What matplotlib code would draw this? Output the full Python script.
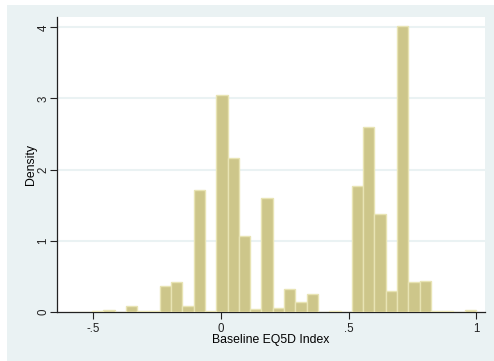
import numpy as np
import matplotlib.pyplot as plt
from matplotlib.patches import Rectangle

# histogram of baseline EQ5D index (36 bins from -0.594 to 1)
bin_min = -0.594
bin_max = 1.0
n_bins = 36
density = [0.0, 0.0, 0.02, 0.03, 0.0, 0.085, 0.015, 0.015, 0.37, 0.42,
           0.085, 1.72, 0.01, 3.05, 2.16, 1.07, 0.045, 1.60, 0.05, 0.33,
           0.145, 0.25, 0.0, 0.015, 0.0, 1.77, 2.60, 1.37, 0.29, 4.02,
           0.42, 0.44, 0.015, 0.015, 0.0, 0.03]
xticks = [-0.5, 0, 0.5, 1]
xticklabels = ["-.5", "0", ".5", "1"]
yticks = [0, 1, 2, 3, 4]

plt.rcParams['font.family'] = ['Liberation Sans', 'DejaVu Sans']
bg = '#eaf2f3'

fig = plt.figure(figsize=(4.94, 3.61), dpi=100)
fig.patch.set_facecolor('white')
# stata outer region, slightly inset from the top left
fig.patches.append(Rectangle((7/494, 0), 1 - 7/494, 1 - 5/361,
                             transform=fig.transFigure, facecolor=bg,
                             edgecolor='none', zorder=-10))

ax = fig.add_axes([57/494, (361-312)/361, (485-57)/494, (312-17)/361])
ax.set_facecolor('white')

edges = np.linspace(bin_min, bin_max, n_bins + 1)
ax.bar(edges[:-1], density, width=np.diff(edges), align='edge',
       color='#cdc68a', edgecolor='#e8e4b4', linewidth=1.0, zorder=3)

ax.set_xlim(-0.643, 1.035)
ax.set_ylim(0, 4.145)
for y in yticks[1:]:
    ax.axhline(y, color=bg, linewidth=1.5, zorder=1)

ax.set_xticks(xticks)
ax.set_xticklabels(xticklabels)
ax.set_yticks(yticks)
ax.set_yticklabels([str(t) for t in yticks], rotation=90, va='center')
ax.tick_params(direction='out', length=5, width=0.8, colors='#222222',
               labelsize=8.3)
ax.tick_params(axis='x', pad=3)
ax.tick_params(axis='y', pad=0.5)

for s in ['top', 'right']:
    ax.spines[s].set_visible(False)
for s in ['left', 'bottom']:
    ax.spines[s].set_color('#222222')
    ax.spines[s].set_linewidth(0.9)

ax.set_xlabel("Baseline EQ5D Index", fontsize=8.8, labelpad=-1)
ax.set_ylabel("Density", fontsize=8.8, labelpad=0.5)

fig.savefig("out.png", dpi=100, facecolor=fig.get_facecolor())
